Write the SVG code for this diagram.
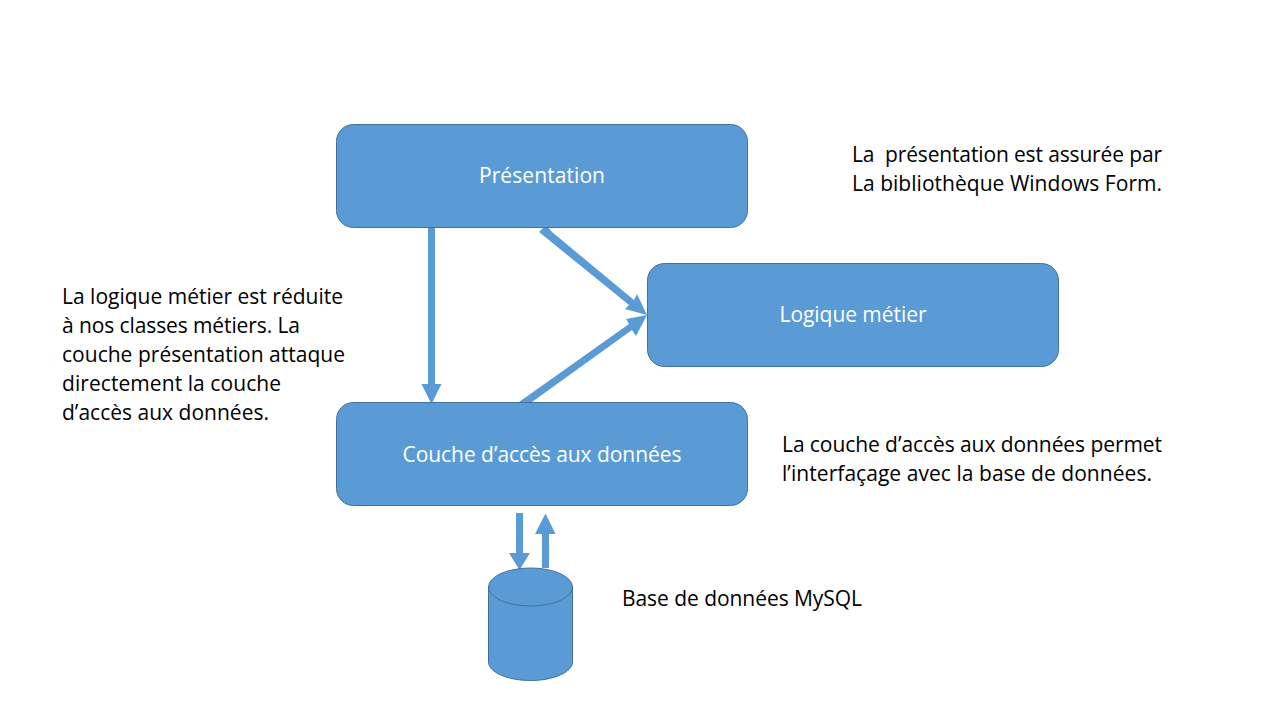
<svg xmlns="http://www.w3.org/2000/svg" width="1280" height="720" viewBox="0 0 1280 720">
<style>
.box{fill:#5b9bd5;stroke:#41719c;stroke-width:1}
.l{font-family:"Open Sans","Liberation Sans",sans-serif;font-size:21px;fill:#fff;text-anchor:middle}
.t{font-family:"Open Sans","Liberation Sans",sans-serif;font-size:21px;fill:#000;white-space:pre}
.h{fill:#5b9bd5}
</style>
<rect width="1280" height="720" fill="#fff"/>
<g id="connectors">
<polygon class="h" points="428,228 435,228 435,384 441.500,384 431.500,404 421.500,384 428,384"/>
<polygon class="h" points="546,225 552,232 634,300 637,294 647,315 625,309 629,305 539,232"/>
<polygon class="h" points="519,402 532,402 632,330 636,336 647,315 626,319 629,324"/>
<polygon class="h" points="516,513 523,513 523,553 530,553 519.500,570 509,553 516,553"/>
<polygon class="h" points="542,568 549,568 549,534 555.500,534 545.500,513.500 535,534 542,534"/>
</g>
<g id="presentation"><rect class="box" x="336.500" y="124.500" width="411" height="103" rx="17"/><text class="l" x="542" y="183" textLength="126">Présentation</text></g>
<g id="logique"><rect class="box" x="647.500" y="263.500" width="411" height="103" rx="17"/><text class="l" x="853" y="322" textLength="147">Logique métier</text></g>
<g id="acces"><rect class="box" x="336.500" y="402.500" width="411" height="103" rx="17"/><text class="l" x="542" y="462" textLength="279">Couche d’accès aux données</text></g>
<g id="bdd"><path class="box" d="M488.500 587V662C488.500 672 507 680.500 530.500 680.500S572.500 672 572.500 662V587"/><ellipse class="box" cx="530.500" cy="587" rx="42" ry="19"/></g>
<g id="notes">
<text class="t" x="852" y="162" textLength="310">La  présentation est assurée par</text>
<text class="t" x="852" y="191" textLength="310">La bibliothèque Windows Form.</text>
<text class="t" x="62" y="304" textLength="281">La logique métier est réduite</text>
<text class="t" x="62" y="333" textLength="238">à nos classes métiers. La</text>
<text class="t" x="62" y="362" textLength="283">couche présentation attaque</text>
<text class="t" x="62" y="391" textLength="219">directement la couche</text>
<text class="t" x="62" y="420" textLength="207">d’accès aux données.</text>
<text class="t" x="782" y="452" textLength="380">La couche d’accès aux données permet</text>
<text class="t" x="782" y="481" textLength="370">l’interfaçage avec la base de données.</text>
<text class="t" x="622" y="606" textLength="240">Base de données MySQL</text>
</g>
</svg>
